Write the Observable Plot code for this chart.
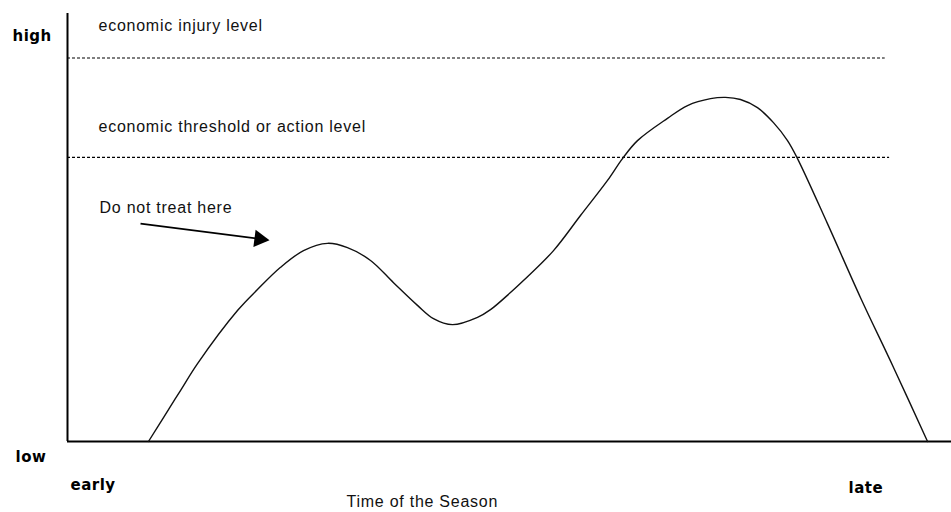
<!DOCTYPE html>
<html>
<head>
<meta charset="utf-8">
<script src="https://cdn.jsdelivr.net/npm/d3@7"></script>
<script src="https://cdn.jsdelivr.net/npm/@observablehq/plot@0.6"></script>
<style>
  html, body { margin: 0; padding: 0; background: #fff; }
  #chart svg { display: block; }
</style>
</head>
<body>
<div id="chart"></div>
<script>
// Time of season (0 = early, 100 = late) and pest population level (0 = low, 10 = high)
const seasonX = [9.16, 10.86, 12.78, 14.71, 19.23, 21.49, 24.10, 26.70, 29.41, 31.67, 34.28, 36.88, 39.59, 41.40, 43.55, 46.38, 47.85, 50.11, 51.58, 54.98, 58.03, 61.09, 62.78, 64.48, 67.87, 70.14, 72.74, 74.43, 76.13, 78.05, 79.86, 81.45, 82.58, 85.97, 89.71, 93.44, 97.29];
const pestY   = [0.00, 0.56, 1.19, 1.82, 3.06, 3.55, 4.07, 4.46, 4.63, 4.53, 4.23, 3.71, 3.18, 2.87, 2.73, 2.90, 3.08, 3.48, 3.76, 4.46, 5.28, 6.10, 6.61, 7.03, 7.55, 7.85, 8.01, 8.04, 7.99, 7.80, 7.45, 7.03, 6.61, 5.09, 3.36, 1.73, 0.00];

// Reference levels
const levelNames  = ["economic injury level", "economic threshold or action level"];
const levelValues = [8.96, 6.64];
const levelEnds   = [92.5, 93.0];
const levelLabelY = [9.58, 7.24];
const levelLabelX = [3.51, 3.51];

// Axis end labels (bold)
const axisLabels  = ["high", "low", "early", "late"];
const axisLabelX  = [-6.22, -5.88, 0.34, 88.35];
const axisLabelY  = [9.36, -0.47, -1.14, -1.21];

// Axis title
const xTitle = "Time of the Season";
const xTitleX = 31.56, xTitleY = -1.54;

// Annotation
const noteText = "Do not treat here";
const noteX = 3.62, noteY = 5.33;
const arrowFrom = [8.26, 5.09];
const arrowTo   = [21.6, 4.74];
const arrowHead = [21.72, 4.73];

const curve = seasonX.map((x, i) => ({x, y: pestY[i]}));
const levels = levelNames.map((name, i) => ({name, y: levelValues[i], x2: levelEnds[i], lx: levelLabelX[i], ly: levelLabelY[i]}));
const boldLabels = axisLabels.map((t, i) => ({t, x: axisLabelX[i], y: axisLabelY[i]}));

const regular = "'Liberation Sans', Arial, sans-serif";
const bold = "'DejaVu Sans', sans-serif";

const chart = Plot.plot({
  width: 951,
  height: 512,
  marginLeft: 67,
  marginRight: 0,
  marginTop: 13,
  marginBottom: 71,
  x: {domain: [0, 100], axis: null},
  y: {domain: [0, 10], axis: null},
  style: {background: "#fff", overflow: "visible"},
  marks: [
    // dotted reference levels
    Plot.ruleY(levels, {y: "y", x1: 0, x2: "x2", stroke: "#000", strokeWidth: 1.2, strokeDasharray: "3,2"}),
    Plot.text(levels, {x: "lx", y: "ly", text: "name", textAnchor: "start", lineAnchor: "bottom",
      fontFamily: regular, fontSize: 16, fill: "#111"}),
    // axes
    Plot.ruleX([0], {y1: 0, y2: 10, stroke: "#000", strokeWidth: 2}),
    Plot.ruleY([0], {x1: 0, x2: 100, stroke: "#000", strokeWidth: 2}),
    // pest population curve
    Plot.line(curve, {x: "x", y: "y", curve: "catmull-rom", stroke: "#111", strokeWidth: 1.4}),
    // annotation
    Plot.text([noteText], {x: noteX, y: noteY, text: d => d, textAnchor: "start", lineAnchor: "bottom",
      fontFamily: regular, fontSize: 16, fill: "#111"}),
    Plot.link([0], {x1: arrowFrom[0], y1: arrowFrom[1], x2: arrowTo[0], y2: arrowTo[1], stroke: "#000", strokeWidth: 1.8}),
    Plot.dot([0], {x: arrowHead[0], y: arrowHead[1], symbol: "triangle", r: 6.5, fill: "#000", stroke: "none", rotate: 97.4}),
    // bold end labels
    Plot.text(boldLabels, {x: "x", y: "y", text: "t", textAnchor: "start", lineAnchor: "bottom",
      fontFamily: bold, fontWeight: "bold", fontSize: 15, fill: "#000"}),
    // axis title
    Plot.text([xTitle], {x: xTitleX, y: xTitleY, text: d => d, textAnchor: "start", lineAnchor: "bottom",
      fontFamily: regular, fontSize: 16, fill: "#111"})
  ]
});
document.getElementById("chart").appendChild(chart);
// letter spacing for text groups
d3.select(chart).selectAll("text").style("letter-spacing", function() {
  const w = this.getAttribute("font-weight") || (this.parentNode && this.parentNode.getAttribute("font-weight"));
  return w === "bold" ? "0.5px" : "0.75px";
});
</script>
</body>
</html>
